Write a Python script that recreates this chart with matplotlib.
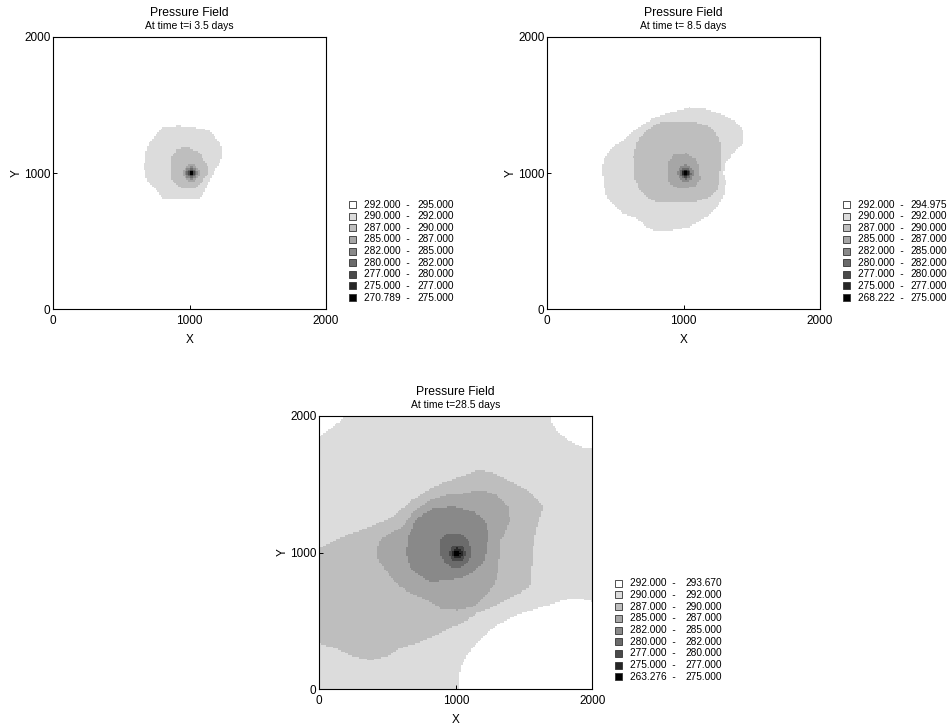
import numpy as np
import matplotlib
matplotlib.use('Agg')
import matplotlib.pyplot as plt
from matplotlib.path import Path
from matplotlib.colors import ListedColormap, BoundaryNorm
from matplotlib.patches import Rectangle

plt.rcParams['font.family'] = ['Liberation Sans', 'DejaVu Sans']

# ---------------- data ----------------
main_title = 'Pressure Field'
subtitles = ['At time t=i 3.5 days', 'At time t= 8.5 days', 'At time t=28.5 days']
class_edges = [275.0, 277.0, 280.0, 282.0, 285.0, 287.0, 290.0, 292.0]
p_min = [270.789, 268.222, 263.276]
p_max = [295.000, 294.975, 293.670]
well_x = [1012, 1015, 1011]
well_y = [1000, 998, 994]
gray_colors = ['#000000', '#262626', '#4a4a4a', '#6b6b6b', '#898989',
               '#a6a6a6', '#bebebe', '#dcdcdc', '#ffffff']
tick_values = [0, 1000, 2000]

# contour outlines (x, y in model units)
t1_292 = [(807, 1340), (929, 1345), (1076, 1328), (1149, 1311), (1223, 1218),
          (1240, 1181), (1240, 1120), (1076, 809), (807, 809), (758, 875),
          (685, 949), (665, 1046), (685, 1193), (758, 1291)]
t1_290 = [(949, 1188), (990, 1186), (1076, 1149), (1105, 1095), (1137, 1046),
          (1137, 998), (1100, 949), (1064, 900), (1015, 883), (949, 888),
          (905, 912), (868, 949), (861, 1046), (868, 1120), (905, 1169)]
t1_ring_levels = [287, 285, 282, 280, 277, 275]
t1_ring_radii = [60, 45, 33, 25, 17, 10]

t2_292 = [(1046, 1482), (1144, 1474), (1291, 1425), (1401, 1364), (1443, 1291),
          (1443, 1218), (1377, 1156), (1303, 1071), (1291, 998), (1311, 936),
          (1291, 826), (1254, 753), (1169, 680), (1046, 606), (900, 577),
          (802, 570), (729, 606), (655, 667), (557, 704), (484, 777),
          (435, 826), (411, 924), (399, 1046), (423, 1120), (484, 1193),
          (557, 1242), (655, 1328), (802, 1413), (924, 1450)]
t2_290 = [(826, 1369), (1095, 1369), (1193, 1340), (1254, 1267), (1279, 1193),
          (1279, 1046), (1262, 998), (1262, 936), (1242, 875), (1193, 826),
          (1095, 790), (802, 785), (729, 822), (667, 895), (636, 973),
          (631, 1120), (655, 1218), (704, 1291), (778, 1345)]
t2_287 = [(924, 1139), (1022, 1144), (1083, 1108), (1115, 1046), (1120, 949),
          (1083, 905), (1022, 888), (949, 892), (900, 919), (883, 973),
          (888, 1071)]
t2_ring_levels = [285, 282, 280, 277, 275]
t2_ring_radii = [60, 42, 32, 23, 15]

t3_292 = [(-10, -10), (1023, -10), (1023, 0), (1026, 93), (1043, 178),
          (1092, 263), (1153, 336), (1226, 409), (1324, 482), (1446, 543),
          (1592, 592), (1714, 628), (1836, 665), (1910, 665), (2000, 641),
          (2010, 641), (2010, 1756), (2000, 1756), (1946, 1761), (1885, 1786),
          (1812, 1827), (1751, 1883), (1709, 1944), (1690, 2000), (1690, 2010),
          (205, 2010), (205, 2000), (127, 1944), (54, 1883), (0, 1851),
          (-10, 1851)]
t3_290 = [(-10, 1030), (176, 1116), (371, 1189), (542, 1262), (664, 1371),
          (835, 1481), (1031, 1554), (1153, 1598), (1250, 1591), (1397, 1518),
          (1519, 1457), (1641, 1347), (1629, 1286), (1592, 1189), (1568, 1043),
          (1556, 896), (1543, 750), (1421, 677), (1275, 604), (1153, 555),
          (1067, 495), (982, 458), (860, 397), (713, 336), (591, 300),
          (493, 239), (371, 214), (249, 239), (127, 300), (-10, 336)]
t3_287 = [(420, 1006), (444, 1091), (518, 1140), (615, 1189), (689, 1298),
          (811, 1384), (933, 1420), (1055, 1432), (1177, 1457), (1299, 1420),
          (1385, 1335), (1397, 1237), (1360, 1140), (1324, 1091), (1324, 994),
          (1311, 872), (1287, 775), (1226, 689), (1128, 604), (1006, 580),
          (896, 592), (786, 653), (664, 702), (567, 775), (493, 860),
          (432, 945)]
t3_285 = [(640, 994), (652, 1116), (713, 1250), (835, 1323), (982, 1335),
          (1128, 1298), (1214, 1237), (1238, 1140), (1226, 1018), (1201, 921),
          (1128, 860), (1031, 811), (933, 799), (811, 787), (713, 848),
          (664, 896)]
t3_282 = [(884, 1091), (933, 1135), (1031, 1140), (1092, 1091), (1116, 1018),
          (1104, 945), (1055, 896), (982, 884), (921, 921), (884, 994)]
t3_ring_levels = [280, 277, 275]
t3_ring_radii = [60, 38, 22]

panel_polys = [
    [(292, t1_292), (290, t1_290)],
    [(292, t2_292), (290, t2_290), (287, t2_287)],
    [(292, t3_292), (290, t3_290), (287, t3_287), (285, t3_285), (282, t3_282)],
]
panel_rings = [(t1_ring_levels, t1_ring_radii),
               (t2_ring_levels, t2_ring_radii),
               (t3_ring_levels, t3_ring_radii)]

# ---------------- layout (pixels) ----------------
W, H = 953, 725
axes_px = [(53.3, 36.7, 326.0, 309.3),
           (547.3, 36.7, 820.0, 309.3),
           (319.3, 415.7, 592.3, 689.3)]
legend_px = [(349.3, 364.3, 417.3, 204.7, 11.6),
             (843.3, 858.0, 910.0, 204.7, 11.6),
             (615.0, 630.0, 685.0, 583.3, 11.675)]

n = 160
edges = np.linspace(0, 2000, n + 1)
centers = 0.5 * (edges[:-1] + edges[1:])
XX, YY = np.meshgrid(centers, centers)
pts = np.column_stack([XX.ravel(), YY.ravel()])


def build_field(i):
    bounds = [p_min[i]] + class_edges + [p_max[i]]
    mids = [0.5 * (a + b) for a, b in zip(bounds[:-1], bounds[1:])]
    P = np.full(XX.shape, mids[-1])
    for level, poly in panel_polys[i]:
        inside = Path(poly).contains_points(pts).reshape(XX.shape)
        P[inside] = mids[class_edges.index(level)]
    dist = np.hypot(XX - well_x[i], YY - well_y[i])
    levels, radii = panel_rings[i]
    for level, r in zip(levels, radii):
        P[dist < r] = mids[class_edges.index(level)]
    return P, bounds


fig = plt.figure(figsize=(W / 100, H / 100), dpi=100)
cmap = ListedColormap(gray_colors)

for i in range(3):
    x0, y0, x1, y1 = axes_px[i]
    ax = fig.add_axes([x0 / W, 1 - y1 / H, (x1 - x0) / W, (y1 - y0) / H])
    P, bounds = build_field(i)
    norm = BoundaryNorm(bounds, cmap.N)
    ax.pcolormesh(edges, edges, P, cmap=cmap, norm=norm, shading='flat')
    ax.set_xlim(0, 2000)
    ax.set_ylim(0, 2000)
    ax.set_xticks(tick_values)
    ax.set_yticks(tick_values)
    ax.set_xticklabels([str(v) for v in tick_values])
    ax.set_yticklabels([str(v) for v in tick_values])
    ax.tick_params(direction='in', length=3, width=0.7, labelsize=8.5,
                   colors='black')
    ax.tick_params(axis='x', pad=4)
    ax.tick_params(axis='y', pad=2)
    for s in ax.spines.values():
        s.set_linewidth(0.8)
        s.set_color('black')
    ax.set_xlabel('X', fontsize=8.5, labelpad=5)
    ax.set_ylabel('Y', fontsize=8.5, labelpad=1)
    cx = 0.5 * (x0 + x1)
    fig.text(cx / W, 1 - (y0 - 24.0) / H, main_title, ha='center',
             va='center', fontsize=8.7)
    fig.text(cx / W, 1 - (y0 - 10.7) / H, subtitles[i], ha='center',
             va='center', fontsize=7.5)

    # legend
    sx, tx1, tx2, ly0, ldy = legend_px[i]
    for row in range(9):
        k = 8 - row
        yc = ly0 + row * ldy
        rect = Rectangle((sx / W, 1 - (yc + 3.5) / H), 7 / W, 7 / H,
                         transform=fig.transFigure, facecolor=gray_colors[k],
                         edgecolor='#333333', linewidth=0.6)
        fig.add_artist(rect)
        fig.text(tx1 / W, 1 - yc / H, '%.3f  -' % bounds[k], ha='left',
                 va='center', fontsize=7.3)
        fig.text(tx2 / W, 1 - yc / H, '%.3f' % bounds[k + 1], ha='left',
                 va='center', fontsize=7.3)

fig.savefig('out.png', dpi=100)
